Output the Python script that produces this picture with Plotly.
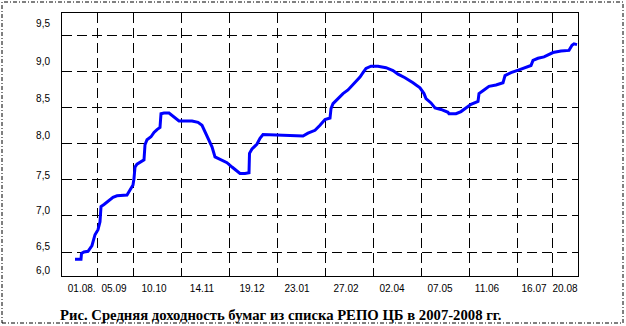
import plotly.graph_objects as go

# ---- data ----
t = [13, 19, 19.5, 22, 26, 30, 33, 36, 38, 39, 42, 46, 51, 55, 65, 68, 71, 72, 73, 75,
     78, 82, 83, 85, 89, 92, 95, 98, 99, 102, 107, 112, 117, 130, 136, 140, 143, 146, 150, 153,
     158, 165, 170, 175, 178, 183, 187, 187.5, 190, 195, 198, 201, 215, 228, 241, 246, 253, 258, 263, 268,
     269, 271, 276, 281, 286, 291, 295, 298, 301, 304, 309, 316, 324, 331, 336, 343, 351, 358, 362, 364,
     369, 373, 379, 386, 387, 394, 399, 404, 409, 416, 417, 422, 427, 434, 441, 443, 449, 457, 464, 469,
     471, 476, 482, 487, 491, 499, 507, 510, 512, 515]
yield_pct = [6.40, 6.40, 6.48, 6.50, 6.51, 6.59, 6.74, 6.81, 6.92, 7.13, 7.16, 7.20, 7.26, 7.28, 7.29, 7.36, 7.43, 7.52, 7.68, 7.72,
             7.75, 7.78, 7.99, 8.06, 8.10, 8.16, 8.20, 8.23, 8.42, 8.43, 8.43, 8.37, 8.32, 8.32, 8.30, 8.26, 8.17, 8.08, 7.96, 7.82,
             7.79, 7.74, 7.68, 7.63, 7.59, 7.59, 7.60, 7.87, 7.93, 8.00, 8.08, 8.13, 8.12, 8.12, 8.11, 8.15, 8.19, 8.26, 8.34, 8.36,
             8.49, 8.56, 8.63, 8.70, 8.75, 8.82, 8.88, 8.93, 8.99, 9.05, 9.08, 9.08, 9.06, 9.02, 8.97, 8.92, 8.85, 8.78, 8.70, 8.63,
             8.57, 8.50, 8.48, 8.44, 8.42, 8.42, 8.45, 8.50, 8.55, 8.59, 8.70, 8.75, 8.80, 8.82, 8.85, 8.95, 8.99, 9.03, 9.07, 9.09,
             9.16, 9.19, 9.21, 9.25, 9.27, 9.29, 9.30, 9.37, 9.39, 9.38]

x_grid = [35.3, 71.7, 119.7, 167.7, 215, 263.3, 311.7, 359, 407.3, 455.7, 490.7]
x_label_pos = [19.7, 52, 92, 140, 190, 235, 284, 330, 378, 425, 472, 503]
x_labels = ["01.08.", "05.09", "10.10", "14.11", "19.12", "23.01",
            "27.02", "02.04", "07.05", "11.06", "16.07", "20.08"]

y_grid = [6.5, 7.0, 7.5, 8.0, 8.5, 9.0, 9.5]
y_label_pos = [6.25, 6.583, 7.083, 7.569, 8.111, 8.625, 9.139, 9.667]
y_labels = ["6,0", "6,5", "7,0", "7,5", "8,0", "8,5", "9,0", "9,5"]

caption = "Рис. Средняя доходность бумаг из списка РЕПО ЦБ в 2007-2008 гг."

# ---- layout geometry ----
W, H = 626, 326
ML, MR, MT, MB = 62, 48, 13, 50
PW, PH = W - ML - MR, H - MT - MB

grid_style = dict(showgrid=True, gridcolor="black", gridwidth=1, griddash="10px,5px", ticks="")

fig = go.Figure()
fig.add_trace(go.Scatter(x=t, y=yield_pct, mode="lines",
                         line=dict(color="#0000FF", width=3), showlegend=False,
                         hoverinfo="skip"))

fig.update_layout(
    width=W, height=H,
    margin=dict(l=ML, r=MR, t=MT, b=MB, pad=0),
    paper_bgcolor="white", plot_bgcolor="white",
    font=dict(family="Liberation Sans, Arial, sans-serif", size=10, color="black"),
    xaxis=dict(range=[0, 516], showline=True, mirror=True, linecolor="black", linewidth=1,
               tickmode="array", tickvals=x_label_pos, ticktext=x_labels,
               showgrid=False, zeroline=False, ticks="", ticklabelstandoff=3,
               minor=dict(tickmode="array", tickvals=x_grid, **grid_style)),
    yaxis=dict(range=[6.1667, 9.819], showline=True, mirror=True, linecolor="black", linewidth=1,
               tickmode="array", tickvals=y_label_pos, ticktext=y_labels,
               showgrid=False, zeroline=False, ticks="", ticklabelstandoff=9,
               minor=dict(tickmode="array", tickvals=y_grid, **grid_style)),
)

fig.add_annotation(text="<b>" + caption + "</b>", xref="paper", yref="paper",
                   x=(280.5 - ML) / PW, y=(H - MB - 315) / PH,
                   xanchor="center", yanchor="middle", showarrow=False,
                   font=dict(family="Liberation Serif, Times New Roman, serif", size=14.7, color="black"))

fig.add_shape(type="rect", xref="paper", yref="paper",
              x0=(2 - ML) / PW, x1=(623 - ML) / PW,
              y0=(H - MB - 323) / PH, y1=(H - MB - 2) / PH,
              line=dict(color="black", width=1, dash="4px,2px,1px,2px"),
              fillcolor="rgba(0,0,0,0)", layer="above")

fig.write_html("out.html",
               config={"displayModeBar": False, "staticPlot": True},
               post_script="document.body.style.margin='0';document.body.style.padding='0';"
                           "document.body.style.overflow='hidden';")
